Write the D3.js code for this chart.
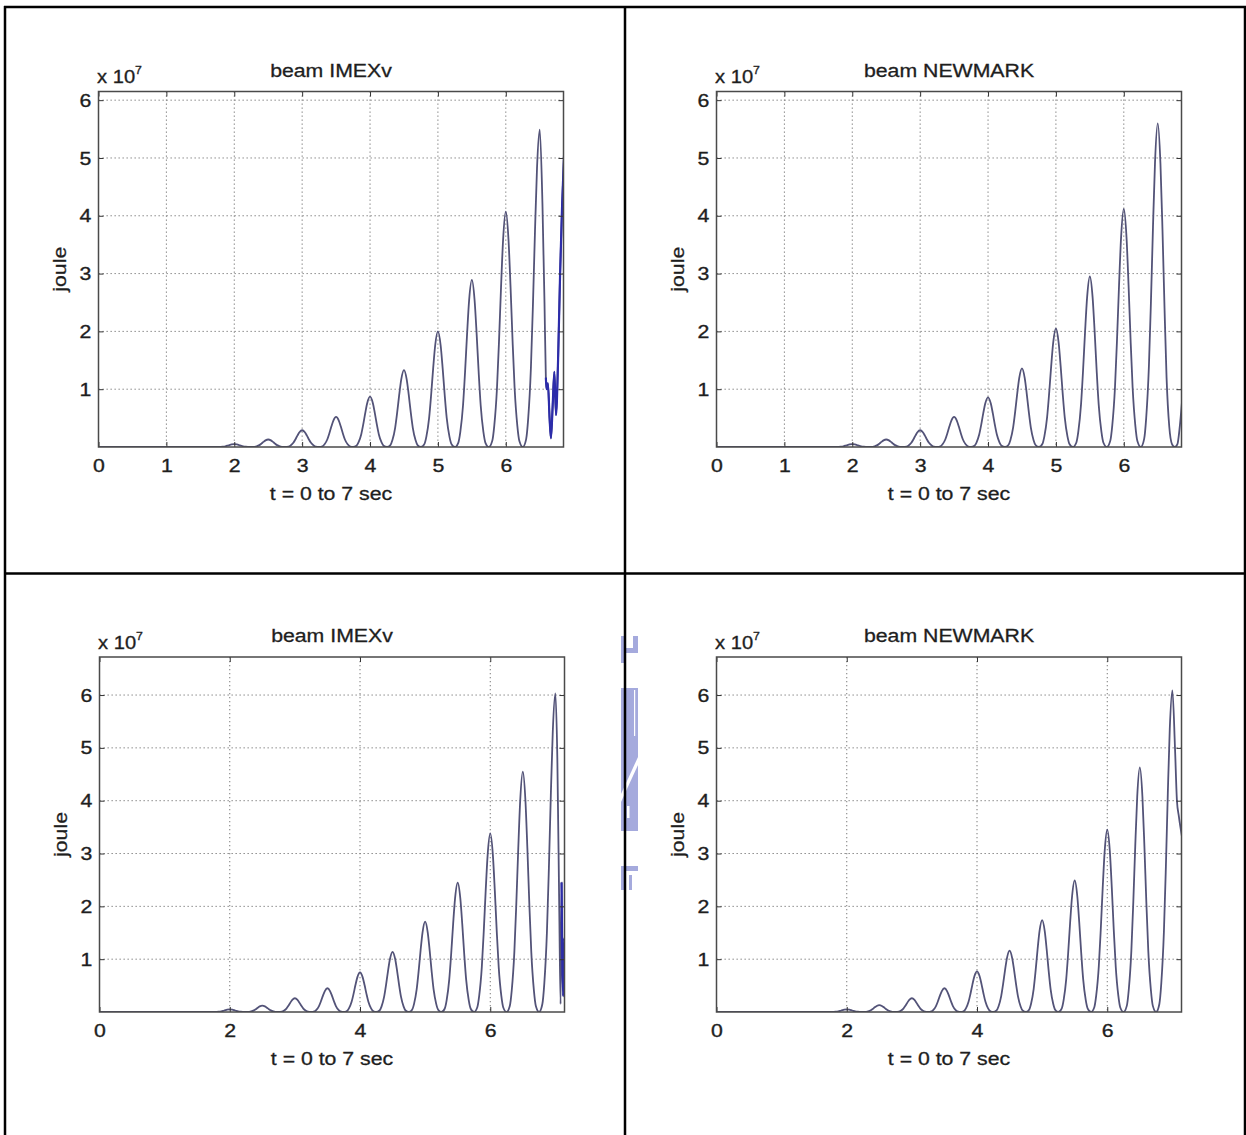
<!DOCTYPE html>
<html>
<head>
<meta charset="utf-8">
<script src="https://d3js.org/d3.v7.min.js"></script>
<style>
body { margin: 0; background: #fff; }
svg { display: block; }
</style>
</head>
<body>
<svg id="drawing_region"></svg>
<script>
// burst peak times (sec)
const peakTimesTop = [2, 2.5, 3, 3.5, 4, 4.5, 5, 5.5, 6, 6.5];
const peakTimesBottom = [2, 2.5, 3, 3.5, 4, 4.5, 5, 5.5, 6, 6.5, 7];

// peak energies, x 10^7 joule
const imexTopPeaks = [0.05, 0.13, 0.29, 0.52, 0.87, 1.33, 2.0, 2.89, 4.07, 5.49];
const newmarkTopPeaks = [0.05, 0.13, 0.29, 0.52, 0.86, 1.36, 2.05, 2.95, 4.12, 5.6];
const imexBottomPeaks = [0.05, 0.12, 0.26, 0.45, 0.75, 1.14, 1.71, 2.45, 3.38, 4.55, 6.03];
const newmarkBottomPeaks = [0.05, 0.13, 0.26, 0.45, 0.77, 1.16, 1.74, 2.49, 3.45, 4.63, 6.09];

// shape of one burst: offset from peak (sec), fraction of peak
const pulseOffsets = [-0.25, -0.2, -0.17, -0.13, -0.1, -0.07, -0.04, 0, 0.04, 0.07, 0.1, 0.13, 0.17, 0.2];
const pulseFractions = [0, 0.025, 0.09, 0.25, 0.45, 0.68, 0.88, 1, 0.88, 0.68, 0.45, 0.25, 0.09, 0.025];

// what the curve does after its last peak
const imexTopTailT = [6.54, 6.57, 6.59, 6.6, 6.62, 6.645, 6.665, 6.69, 6.715, 6.74, 6.77, 6.8, 6.83, 6.86];
const imexTopTailE = [4.2, 2.5, 1.2, 1.0, 1.1, 0.5, 0.15, 0.7, 1.3, 0.55, 1.5, 3.0, 4.2, 5.1];
const newmarkTopTailT = [6.54, 6.57, 6.6, 6.63, 6.67, 6.71, 6.75, 6.79, 6.82, 6.86];
const newmarkTopTailE = [4.9, 3.75, 2.4, 1.2, 0.35, 0.05, 0, 0.05, 0.3, 0.82];
const imexBottomTailT = [7.03, 7.06, 7.08, 7.095, 7.105, 7.12, 7.135, 7.15];
const imexBottomTailE = [4.8, 1.9, 0.15, 2.45, 1.1, 0.3, 1.4, 0.8];
const newmarkBottomTailT = [7.04, 7.07, 7.1, 7.15];
const newmarkBottomTailE = [5.0, 4.0, 3.7, 3.3];

// tick values
const xTicksTop = [0, 1, 2, 3, 4, 5, 6];
const xTicksBottom = [0, 2, 4, 6];
const yTicks = [1, 2, 3, 4, 5, 6];

const FONT = "Arial, 'Liberation Sans', Helvetica, sans-serif";

var svg = d3.select("#drawing_region")
    .attr('width', 1246)
    .attr('height', 1135);

// faint logo watermark in the middle of the page
var mark = svg.append('g').attr('fill', "#a5aadd");
mark.append('rect').attr('x', 621).attr('y', 636).attr('width', 4).attr('height', 27);
mark.append('rect').attr('x', 621).attr('y', 648).attr('width', 17).attr('height', 5);
mark.append('rect').attr('x', 633).attr('y', 636).attr('width', 5).attr('height', 12);
mark.append('rect').attr('x', 621).attr('y', 688).attr('width', 17).attr('height', 143);
mark.append('polygon').attr('points', "638,757 638,765 621,802 621,794").attr('fill', "#fff");
mark.append('rect').attr('x', 634).attr('y', 690).attr('width', 1.2).attr('height', 46).attr('fill', "#fff");
mark.append('rect').attr('x', 627).attr('y', 806).attr('width', 2.5).attr('height', 12).attr('fill', "#fff");
mark.append('rect').attr('x', 621).attr('y', 866).attr('width', 17).attr('height', 5);
mark.append('rect').attr('x', 621).attr('y', 866).attr('width', 4).attr('height', 24);
mark.append('rect').attr('x', 629).attr('y', 875).attr('width', 3).attr('height', 15);

// table frame
var frame = svg.append('g').attr('stroke', "#000").attr('stroke-width', 2.5);
[[4, 7, 1246, 7], [4, 573.5, 1246, 573.5], [5, 6, 5, 1135], [625, 6, 625, 1135], [1245, 6, 1245, 1135]]
    .forEach(l => {
        frame.append('line')
            .attr('x1', l[0]).attr('y1', l[1])
            .attr('x2', l[2]).attr('y2', l[3]);
    });

function buildSeries(peakTimes, peaks, tailT, tailE) {
    const pts = [{t: 0, e: 0}];
    peaks.forEach((p, i) => {
        const last = i === peaks.length - 1;
        pulseOffsets.forEach((dt, j) => {
            if (last && dt > 0) return;
            pts.push({t: peakTimes[i] + dt, e: p * pulseFractions[j]});
        });
    });
    tailT.forEach((t, i) => pts.push({t: t, e: tailE[i]}));
    return pts;
}

class EnergyPlot {

    constructor( config, data ) {
        this.config = {
            id: config.id,
            left: config.left,
            top: config.top,
            width: config.width || 465,
            height: config.height || 355,
            xmax: config.xmax,
            ymax: config.ymax,
            xticks: config.xticks,
            yticks: config.yticks,
            title: config.title,
            blueFrom: config.blueFrom
        };
        this.data = data;
        this.init();
    }

    init() {
        let self = this;
        const c = self.config;

        self.chart = svg.append('g')
            .attr('transform', `translate(${c.left}, ${c.top})`);

        self.xscale = d3.scaleLinear()
            .domain([0, c.xmax])
            .range([0, c.width]);

        self.yscale = d3.scaleLinear()
            .domain([0, c.ymax])
            .range([c.height, 0]);

        self.chart.append('clipPath')
            .attr('id', 'clip' + c.id)
            .append('rect')
            .attr('width', c.width)
            .attr('height', c.height);
    }

    render() {
        let self = this;
        const c = self.config;

        // dotted grid
        const grid = self.chart.append('g')
            .attr('stroke', "#7a7a7a")
            .attr('stroke-width', 1)
            .attr('stroke-dasharray', "1.3,2.7");
        grid.selectAll('.gx')
            .data(c.xticks.filter(d => d > 0))
            .enter().append('line')
            .attr('x1', d => self.xscale(d)).attr('x2', d => self.xscale(d))
            .attr('y1', 0).attr('y2', c.height);
        grid.selectAll('.gy')
            .data(c.yticks)
            .enter().append('line')
            .attr('y1', d => self.yscale(d)).attr('y2', d => self.yscale(d))
            .attr('x1', 0).attr('x2', c.width);

        // curve
        const line = d3.line()
            .x(d => self.xscale(d.t))
            .y(d => self.yscale(d.e))
            .curve(d3.curveMonotoneX);

        const plot = self.chart.append('g')
            .attr('clip-path', `url(#clip${c.id})`)
            .attr('fill', "none");
        plot.append('path')
            .datum(self.data)
            .attr('stroke', "#535378")
            .attr('stroke-width', 1.8)
            .attr('d', line);
        if (c.blueFrom) {
            plot.append('path')
                .datum(self.data.filter(d => d.t >= c.blueFrom))
                .attr('stroke', "#2c2caa")
                .attr('stroke-width', 2.2)
                .attr('d', line);
        }

        // axes, ticks pointing inwards on all four sides
        const styleAxis = g => {
            g.select('.domain').remove();
            g.selectAll('line').attr('stroke', "#333");
            g.attr('font-size', 19).attr('font-family', FONT);
            g.selectAll('text')
                .attr('fill', "#1e1e1e")
                .attr('stroke', "#1e1e1e")
                .attr('stroke-width', 0.35)
                .attr('transform', "scale(1.12,1)");
        };

        self.chart.append('g')
            .attr('transform', `translate(0, ${c.height})`)
            .call(d3.axisBottom(self.xscale).tickValues(c.xticks).tickFormat(d3.format('d'))
                .tickSizeInner(-5).tickSizeOuter(0).tickPadding(12))
            .call(styleAxis);
        self.chart.append('g')
            .call(d3.axisTop(self.xscale).tickValues(c.xticks)
                .tickSizeInner(-5).tickSizeOuter(0).tickFormat(""))
            .call(styleAxis);
        self.chart.append('g')
            .call(d3.axisLeft(self.yscale).tickValues(c.yticks).tickFormat(d3.format('d'))
                .tickSizeInner(-5).tickSizeOuter(0).tickPadding(6.5))
            .call(styleAxis);
        self.chart.append('g')
            .attr('transform', `translate(${c.width}, 0)`)
            .call(d3.axisRight(self.yscale).tickValues(c.yticks)
                .tickSizeInner(-5).tickSizeOuter(0).tickFormat(""))
            .call(styleAxis);

        // box
        self.chart.append('rect')
            .attr('width', c.width)
            .attr('height', c.height)
            .attr('fill', "none")
            .attr('stroke', "#4a4a4a")
            .attr('stroke-width', 1.5);

        // texts
        const label = (x, y, extra) => self.chart.append('text')
            .attr('transform', `translate(${x}, ${y}) ${extra || ''} scale(1.12,1)`)
            .attr('font-family', FONT)
            .attr('font-size', 19)
            .attr('fill', "#1e1e1e")
            .attr('stroke', "#1e1e1e")
            .attr('stroke-width', 0.3);

        label(c.width / 2, -15)
            .attr('text-anchor', "middle")
            .text(c.title);

        label(c.width / 2, c.height + 53)
            .attr('text-anchor', "middle")
            .text("t = 0 to 7 sec");

        label(-32.5, c.height / 2, "rotate(-90)")
            .attr('text-anchor', "middle")
            .text("joule");

        const expo = label(-1.5, -8.5)
            .attr('font-size', 18);
        expo.append('tspan').text("x 10");
        expo.append('tspan').attr('dy', -9).attr('font-size', 11).text("7");
    }
}

const panels = [
    { id: 0, left: 98.5, top: 91.5, height: 355.5, xmax: 6.85, ymax: 6.15, xticks: xTicksTop,
      title: "beam IMEXv", blueFrom: 6.59,
      data: buildSeries(peakTimesTop, imexTopPeaks, imexTopTailT, imexTopTailE) },
    { id: 1, left: 716.5, top: 91.5, height: 355.5, xmax: 6.85, ymax: 6.15, xticks: xTicksTop,
      title: "beam NEWMARK", blueFrom: null,
      data: buildSeries(peakTimesTop, newmarkTopPeaks, newmarkTopTailT, newmarkTopTailE) },
    { id: 2, left: 99.5, top: 657, height: 355, xmax: 7.14, ymax: 6.72, xticks: xTicksBottom,
      title: "beam IMEXv", blueFrom: 7.085,
      data: buildSeries(peakTimesBottom, imexBottomPeaks, imexBottomTailT, imexBottomTailE) },
    { id: 3, left: 716.5, top: 657, height: 355, xmax: 7.14, ymax: 6.72, xticks: xTicksBottom,
      title: "beam NEWMARK", blueFrom: null,
      data: buildSeries(peakTimesBottom, newmarkBottomPeaks, newmarkBottomTailT, newmarkBottomTailE) }
];

panels.forEach(p => {
    const plot = new EnergyPlot({
        id: p.id, left: p.left, top: p.top, width: 465, height: p.height,
        xmax: p.xmax, ymax: p.ymax, xticks: p.xticks, yticks: yTicks,
        title: p.title, blueFrom: p.blueFrom
    }, p.data);
    plot.render();
});
</script>
</body>
</html>
